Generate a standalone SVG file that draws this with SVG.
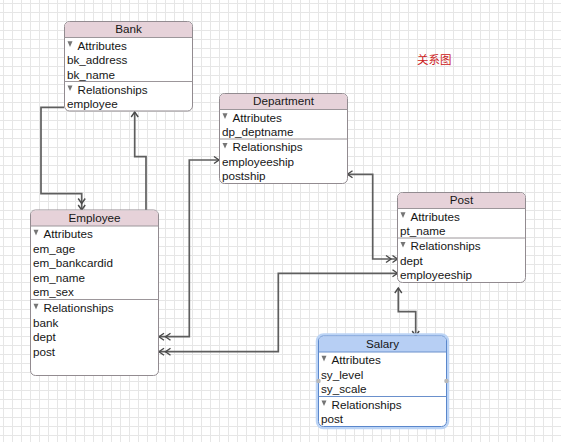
<svg xmlns="http://www.w3.org/2000/svg" width="561" height="442" viewBox="0 0 561 442">
<style>
.t{font-family:"Liberation Sans",Arial,sans-serif;font-size:11.7px;fill:#161616}
.h{text-anchor:middle}
.box{fill:#ffffff;stroke:#928b90;stroke-width:1}
.hd{fill:#e6d2d9}
.sep{stroke:#9c969a;stroke-width:1}
.tri{fill:#757575}
.c{fill:none;stroke:#5e5e5e;stroke-width:1.7}
.zh{font-family:"Noto Sans CJK SC",sans-serif;font-size:11.5px;fill:#cc2020}
</style>
<defs>
<pattern id="grid" x="3" y="3" width="9" height="9" patternUnits="userSpaceOnUse">
<rect x="0" y="0" width="9" height="9" fill="#ffffff"/>
<rect x="0" y="0" width="1" height="9" fill="#e6e6e6"/>
<rect x="0" y="0" width="9" height="1" fill="#e6e6e6"/>
</pattern>
<marker id="one" viewBox="-8 -5 9 10" refX="0" refY="0" markerWidth="9" markerHeight="10" markerUnits="userSpaceOnUse" orient="auto-start-reverse" overflow="visible">
<path d="M-5,-3.5 L0,0 L-5,3.5" fill="none" stroke="#4a4a4a" stroke-width="1.4"/>
</marker>
<marker id="many" viewBox="-14 -5 15 10" refX="0" refY="0" markerWidth="15" markerHeight="10" markerUnits="userSpaceOnUse" orient="auto-start-reverse" overflow="visible">
<path d="M-5,-3.5 L0,0 L-5,3.5 M-11.5,-3.5 L-6.5,0 L-11.5,3.5" fill="none" stroke="#4a4a4a" stroke-width="1.4"/>
</marker>
</defs>
<rect x="0" y="0" width="561" height="442" fill="url(#grid)"/>

<g id="connectors">
<path class="c" d="M64,107.3 H41 V193.7 H81.7 V210" marker-end="url(#many)"/>
<path class="c" d="M146,210 V156.7 H134.7 V112" marker-end="url(#one)"/>
<path class="c" d="M159,336.7 H189.3 V160 H219" marker-start="url(#many)" marker-end="url(#one)"/>
<path class="c" d="M347.5,174.3 H372.7 V259 H397.5" marker-start="url(#one)" marker-end="url(#many)"/>
<path class="c" d="M159,351.7 H278.3 V273.3 H397.5" marker-start="url(#many)" marker-end="url(#one)"/>
<path class="c" d="M398.3,288 V311.7 H415.7 V336" marker-start="url(#one)" marker-end="url(#one)"/>
</g>

<g id="bank">
<rect class="box" x="64.5" y="21.5" width="128" height="89.5" rx="5"/>
<path class="hd" d="M65,37.5 V26.5 Q65,22 69.5,22 H187.5 Q192,22 192,26.5 V37.5 Z"/>
<line class="sep" x1="64.5" y1="37.5" x2="192.5" y2="37.5"/>
<text class="t h" x="128.5" y="33.2">Bank</text>
<path class="tri" d="M67.5,41.2 H72.5 L70,46.9 Z"/>
<text class="t" x="77.5" y="49.5">Attributes</text>
<text class="t" x="67" y="64">bk_address</text>
<text class="t" x="67" y="78.5">bk_name</text>
<line class="sep" x1="64.5" y1="81.5" x2="192.5" y2="81.5"/>
<path class="tri" d="M67.5,85.4 H72.5 L70,91.1 Z"/>
<text class="t" x="77.5" y="93.7">Relationships</text>
<text class="t" x="67" y="108.2">employee</text>
</g>

<g id="employee">
<rect class="box" x="30.5" y="210" width="128" height="165.5" rx="5"/>
<path class="hd" d="M31,226 V215 Q31,210.5 35.5,210.5 H153.5 Q158,210.5 158,215 V226 Z"/>
<line class="sep" x1="30.5" y1="226" x2="158.5" y2="226"/>
<text class="t h" x="94.5" y="221.7">Employee</text>
<path class="tri" d="M33.5,229.7 H38.5 L36,235.4 Z"/>
<text class="t" x="43.5" y="238">Attributes</text>
<text class="t" x="33" y="252.5">em_age</text>
<text class="t" x="33" y="267">em_bankcardid</text>
<text class="t" x="33" y="281.5">em_name</text>
<text class="t" x="33" y="296">em_sex</text>
<line class="sep" x1="30.5" y1="299.5" x2="158.5" y2="299.5"/>
<path class="tri" d="M33.5,303.7 H38.5 L36,309.4 Z"/>
<text class="t" x="43.5" y="312">Relationships</text>
<text class="t" x="33" y="326.5">bank</text>
<text class="t" x="33" y="341">dept</text>
<text class="t" x="33" y="355.5">post</text>
</g>

<g id="department">
<rect class="box" x="219.5" y="93.5" width="128" height="90" rx="5"/>
<path class="hd" d="M220,109.5 V98.5 Q220,94 224.5,94 H342.5 Q347,94 347,98.5 V109.5 Z"/>
<line class="sep" x1="219.5" y1="109.5" x2="347.5" y2="109.5"/>
<text class="t h" x="283.5" y="105.2">Department</text>
<path class="tri" d="M222.5,113.2 H227.5 L225,118.9 Z"/>
<text class="t" x="232.5" y="121.5">Attributes</text>
<text class="t" x="222" y="136">dp_deptname</text>
<line class="sep" x1="219.5" y1="139" x2="347.5" y2="139"/>
<path class="tri" d="M222.5,142.9 H227.5 L225,148.6 Z"/>
<text class="t" x="232.5" y="151.2">Relationships</text>
<text class="t" x="222" y="165.7">employeeship</text>
<text class="t" x="222" y="180.2">postship</text>
</g>

<g id="post">
<rect class="box" x="397.5" y="192.5" width="128" height="90" rx="5"/>
<path class="hd" d="M398,208.5 V197.5 Q398,193 402.5,193 H520.5 Q525,193 525,197.5 V208.5 Z"/>
<line class="sep" x1="397.5" y1="208.5" x2="525.5" y2="208.5"/>
<text class="t h" x="461.5" y="204.2">Post</text>
<path class="tri" d="M400.5,212.2 H405.5 L403,217.9 Z"/>
<text class="t" x="410.5" y="220.5">Attributes</text>
<text class="t" x="400" y="235">pt_name</text>
<line class="sep" x1="397.5" y1="238" x2="525.5" y2="238"/>
<path class="tri" d="M400.5,241.9 H405.5 L403,247.6 Z"/>
<text class="t" x="410.5" y="250.2">Relationships</text>
<text class="t" x="400" y="264.7">dept</text>
<text class="t" x="400" y="279.2">employeeship</text>
</g>

<g id="salary">
<rect x="317" y="334.5" width="131" height="93.5" rx="6.5" fill="none" stroke="#bcd4f5" stroke-width="2.5"/>
<rect x="318.5" y="336" width="128" height="90.5" rx="5" fill="#ffffff" stroke="#5a87cc" stroke-width="1"/>
<path d="M319,352 V341 Q319,336.5 323.5,336.5 H441.5 Q446,336.5 446,341 V352 Z" fill="#b7cff4"/>
<line x1="318.5" y1="352" x2="446.5" y2="352" stroke="#6a90cc" stroke-width="1"/>
<text class="t h" x="382.5" y="347.7">Salary</text>
<path class="tri" d="M321.5,355.7 H326.5 L324,361.4 Z"/>
<text class="t" x="331.5" y="364">Attributes</text>
<text class="t" x="321" y="378.5">sy_level</text>
<text class="t" x="321" y="393">sy_scale</text>
<line x1="318.5" y1="396.5" x2="446.5" y2="396.5" stroke="#6a90cc" stroke-width="1"/>
<path class="tri" d="M321.5,400.4 H326.5 L324,406.1 Z"/>
<text class="t" x="331.5" y="408.7">Relationships</text>
<text class="t" x="321" y="423.2">post</text>
<circle cx="318.5" cy="381" r="2.3" fill="#b9b9b9"/>
<circle cx="446.5" cy="381" r="2.3" fill="#b9b9b9"/>
</g>

<text class="zh" x="417" y="64">关系图</text>
</svg>
